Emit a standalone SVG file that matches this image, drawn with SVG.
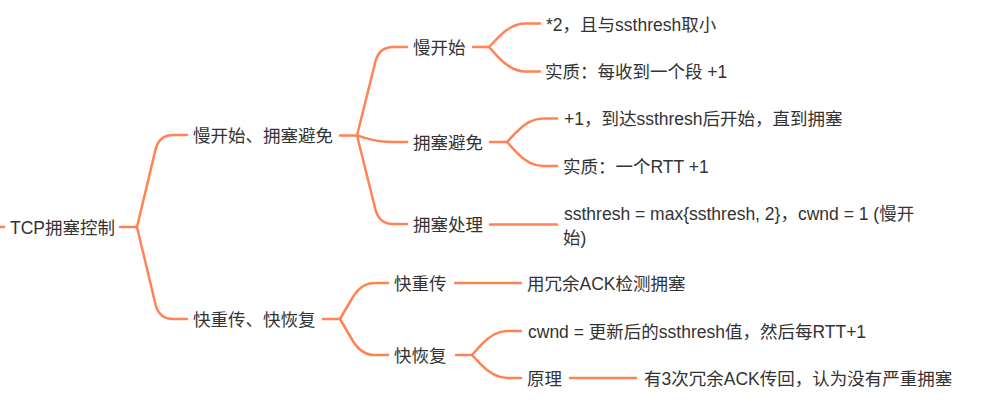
<svg xmlns="http://www.w3.org/2000/svg" width="985" height="404" viewBox="0 0 985 404">
<style>
.t{font-family:"Liberation Sans","Noto Sans CJK SC",sans-serif;font-size:17.5px;fill:#333333}
.c path{fill:none;stroke:#FF8355;stroke-width:2.5;stroke-linecap:round;stroke-linejoin:round}
</style>
<rect width="985" height="404" fill="#ffffff"/>
<g class="c" id="connectors">
<path d="M0,227 L4,227"/>
<path d="M120,227 L137,227"/>
<path d="M137,227 L155.4,150 Q159,135 173,135 L187,135"/>
<path d="M137,227 L155.4,304 Q159,319 173,319 L187,319"/>
<path d="M340,135.5 L357,135.5"/>
<path d="M357,135.5 L375.3,62 Q379,47 393,47 L407,47"/>
<path d="M357,135.5 L365.8,138.1 Q379,142 393,142 L407,142"/>
<path d="M357,135.5 L375.3,209 Q379,224 393,224 L407,224"/>
<path d="M473,47 L489,47"/>
<path d="M489,47 L498,37.6 Q511.4,23.5 525.7,23.5 L540,23.5"/>
<path d="M489,47 L498,56.8 Q511.4,71.5 525.7,71.5 L540,71.5"/>
<path d="M490,142 L507,142"/>
<path d="M507,142 L515.8,132.6 Q529,118.5 543,118.5 L557,118.5"/>
<path d="M507,142 L515.8,151.6 Q529,166 543,166 L557,166"/>
<path d="M490,224.5 L557,224.5"/>
<path d="M323,319 L340,319"/>
<path d="M340,319 L352.3,298 Q361.1,283 374.6,283 L388,283"/>
<path d="M340,319 L352.3,340 Q361.1,355 374.6,355 L388,355"/>
<path d="M455,283 L521,283"/>
<path d="M456,355 L472,355"/>
<path d="M472,355 L480.6,345.4 Q493.6,331 507.3,331 L521,331"/>
<path d="M472,355 L480.6,364.2 Q493.6,378 507.3,378 L521,378"/>
<path d="M570,378 L636,378"/>
</g>
<g id="root"><text class="t" x="10" y="233.5">TCP拥塞控制</text></g>
<g id="n1"><text class="t" x="193" y="141.5">慢开始、拥塞避免</text></g>
<g id="n2"><text class="t" x="193" y="325.5">快重传、快恢复</text></g>
<g id="n11"><text class="t" x="413" y="53.5">慢开始</text></g>
<g id="n12"><text class="t" x="413" y="148.5">拥塞避免</text></g>
<g id="n13"><text class="t" x="413" y="230.5">拥塞处理</text></g>
<g id="n111"><text class="t" x="546" y="30.5">*2，且与ssthresh取小</text></g>
<g id="n112"><text class="t" x="545" y="77.5">实质：每收到一个段 +1</text></g>
<g id="n121"><text class="t" x="564" y="124.5">+1，到达ssthresh后开始，直到拥塞</text></g>
<g id="n122"><text class="t" x="563" y="172.5">实质：一个RTT +1</text></g>
<g id="n131"><text class="t" x="564" y="219.5">ssthresh = max{ssthresh, 2}，cwnd = 1 (慢开</text><text class="t" x="563" y="243.5">始)</text></g>
<g id="n21"><text class="t" x="394" y="289.5">快重传</text></g>
<g id="n22"><text class="t" x="394" y="361.5">快恢复</text></g>
<g id="n211"><text class="t" x="527" y="289.5">用冗余ACK检测拥塞</text></g>
<g id="n221"><text class="t" x="528" y="337.5">cwnd = 更新后的ssthresh值，然后每RTT+1</text></g>
<g id="n222"><text class="t" x="527" y="384.5">原理</text></g>
<g id="n2221"><text class="t" x="644" y="384.5">有3次冗余ACK传回，认为没有严重拥塞</text></g>
</svg>
